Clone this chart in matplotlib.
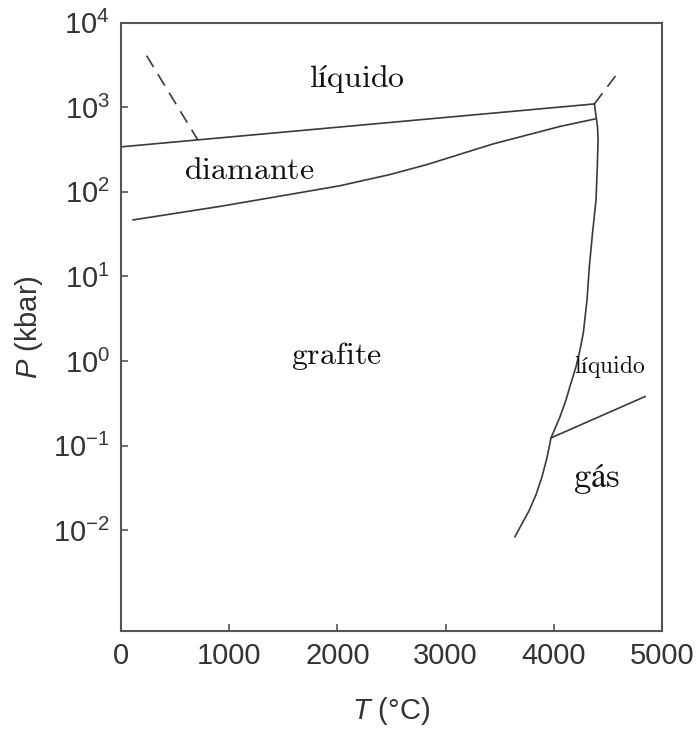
import matplotlib.pyplot as plt
from matplotlib.ticker import NullLocator

plt.rcParams['font.family'] = ['Liberation Sans', 'DejaVu Sans']
plt.rcParams['mathtext.fontset'] = 'custom'
plt.rcParams['mathtext.rm'] = 'Liberation Sans'
plt.rcParams['mathtext.it'] = 'Liberation Sans:italic'

# liquid / solid boundary, T in C, P in kbar
liq_solid_T = [0, 4375]
liq_solid_P = [340, 1094]

# metastable extension of the diamond melting line (dashed)
diamond_meta_T = [237, 709]
diamond_meta_P = [4070, 412]

# graphite / diamond boundary
gr_dia_T = [111, 915, 1534, 2024, 2486, 2828, 3438, 4057, 4381]
gr_dia_P = [46.5, 67.2, 91.9, 118, 160, 210, 368, 593, 727]

# graphite melting / sublimation curve
gr_melt_T = [4375, 4404, 4409, 4402, 4390, 4358, 4328, 4307, 4273, 4242,
             4205, 4159, 4113, 4057, 3974, 3937, 3891, 3835, 3771, 3706, 3641]
gr_melt_P = [1094, 585, 410, 197, 80.2, 32.7, 12.9, 5.27, 2.15, 1.35,
             0.851, 0.551, 0.347, 0.218, 0.123, 0.0716, 0.0427, 0.0261, 0.0169,
             0.0119, 0.00834]

# dashed extension above the triple point
gr_meta_T = [4375, 4584]
gr_meta_P = [1094, 2475]

# liquid / gas boundary
liq_gas_T = [3974, 4843]
liq_gas_P = [0.123, 0.379]

labels = ['líquido', 'diamante', 'grafite', 'líquido', 'gás']
label_T = [2181, 1183, 1987, 4519, 4399]
label_P = [2150, 175, 1.15, 0.87, 0.040]
label_size = [23, 23, 23, 17, 25]

line_color = '#3a3a3a'

fig = plt.figure(figsize=(6.97, 7.29), dpi=100)
ax = fig.add_axes([0.1736, 0.1344, 0.7762, 0.8345])

ax.plot(liq_solid_T, liq_solid_P, color=line_color, lw=1.2)
ax.plot(diamond_meta_T, diamond_meta_P, color=line_color, lw=1.2, linestyle=(0, (8, 5)))
ax.plot(gr_dia_T, gr_dia_P, color=line_color, lw=1.2)
ax.plot(gr_melt_T, gr_melt_P, color=line_color, lw=1.2)
ax.plot(gr_meta_T, gr_meta_P, color=line_color, lw=1.2, linestyle=(0, (8, 5)))
ax.plot(liq_gas_T, liq_gas_P, color=line_color, lw=1.2)

for txt, t, p, fs in zip(labels, label_T, label_P, label_size):
    ax.text(t, p, r'$\mathrm{' + txt + '}$', math_fontfamily='cm',
            fontsize=fs, ha='center', va='center', color='#111111')

ax.set_yscale('log')
ax.set_xlim(0, 5000)
ax.set_ylim(6.4e-4, 1e4)
ax.set_xticks([0, 1000, 2000, 3000, 4000, 5000])
ax.set_yticks([1e-2, 1e-1, 1e0, 1e1, 1e2, 1e3, 1e4])
ax.yaxis.set_minor_locator(NullLocator())

for s in ax.spines.values():
    s.set_color('#555555')
    s.set_linewidth(1.5)

ax.tick_params(direction='in', length=5, width=1.2, color='#555555',
               labelsize=21, labelcolor='#333333', pad=8)

ax.set_xlabel(r'$T$ (°C)', fontsize=21, color='#333333', labelpad=18)
ax.set_ylabel(r'$P$ (kbar)', fontsize=21, color='#333333', labelpad=6)

fig.savefig('out.png', dpi=100)
